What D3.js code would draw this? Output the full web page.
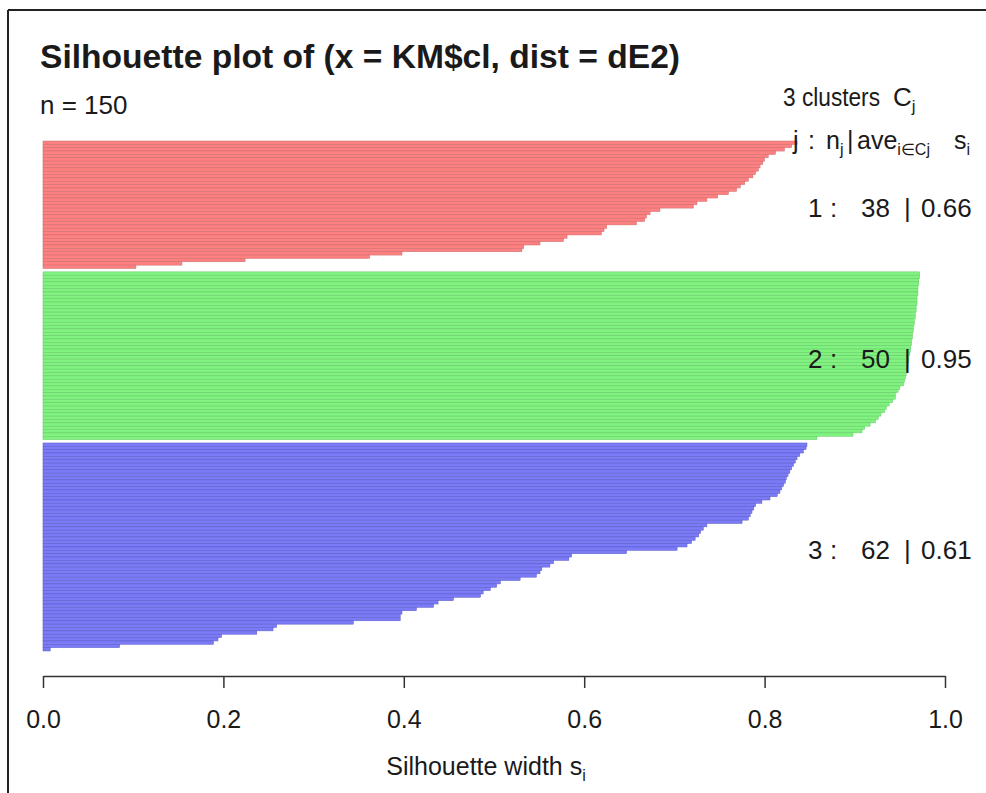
<!DOCTYPE html>
<html>
<head>
<meta charset="utf-8">
<script src="https://cdn.jsdelivr.net/npm/d3@7"></script>
<style>
  html, body { margin: 0; padding: 0; background: #fff; }
  svg { display: block; }
  text { font-family: "Liberation Sans", Arial, sans-serif; fill: #1a1a1a; }
</style>
</head>
<body>
<svg id="chart" width="986" height="793"></svg>
<script>
// ---------- data ----------
const clusterIds = [1, 2, 3];
const clusterAvg = [0.66, 0.95, 0.61];
const cluster1 = [0.836, 0.830, 0.822, 0.812, 0.804, 0.800, 0.798, 0.795, 0.793, 0.790,
  0.787, 0.782, 0.778, 0.773, 0.769, 0.760, 0.748, 0.736, 0.725, 0.721,
  0.684, 0.673, 0.669, 0.667, 0.658, 0.625, 0.622, 0.619, 0.581, 0.577,
  0.551, 0.533, 0.531, 0.398, 0.362, 0.224, 0.154, 0.103];
const cluster2 = [0.972, 0.972, 0.971, 0.971, 0.970, 0.970, 0.970, 0.969, 0.969, 0.969,
  0.968, 0.968, 0.967, 0.967, 0.966, 0.966, 0.965, 0.965, 0.964, 0.964,
  0.963, 0.963, 0.962, 0.962, 0.961, 0.960, 0.960, 0.959, 0.958, 0.957,
  0.957, 0.956, 0.955, 0.954, 0.950, 0.948, 0.945, 0.945, 0.942, 0.938,
  0.935, 0.933, 0.929, 0.926, 0.923, 0.917, 0.911, 0.908, 0.898, 0.858];
const cluster3 = [0.847, 0.846, 0.843, 0.839, 0.836, 0.834, 0.832, 0.830, 0.828, 0.826,
  0.824, 0.823, 0.821, 0.819, 0.817, 0.814, 0.806, 0.797, 0.790, 0.788,
  0.786, 0.784, 0.782, 0.775, 0.736, 0.732, 0.729, 0.727, 0.723, 0.719,
  0.714, 0.703, 0.647, 0.586, 0.583, 0.566, 0.562, 0.553, 0.551, 0.547,
  0.529, 0.507, 0.503, 0.496, 0.488, 0.485, 0.455, 0.438, 0.433, 0.414,
  0.398, 0.396, 0.396, 0.344, 0.259, 0.255, 0.237, 0.198, 0.194, 0.189,
  0.085, 0.008];
const clusterValues = [cluster1, cluster2, cluster3];
const xTicks = [0.0, 0.2, 0.4, 0.6, 0.8, 1.0];
const fills = ["#ff8080", "#80f280", "#7b7bf8"];
const edges = ["#c86a6c", "#66c866", "#5a5ac4"];

// ---------- layout ----------
const svg = d3.select("#chart");
const xLeft = 43, xRight = 945, yTop = 141, yBottom = 651;

const keys = [];
const bars = [];
clusterValues.forEach((vals, ci) => {
  if (ci > 0) keys.push("gap" + ci);
  vals.forEach((v, i) => {
    const k = "c" + ci + "_" + i;
    keys.push(k);
    bars.push({ key: k, cluster: ci, value: v });
  });
});

const x = d3.scaleLinear().domain([0, 1]).range([xLeft, xRight]);
const y = d3.scaleBand().domain(keys).range([yTop, yBottom]).paddingInner(0).paddingOuter(0);

// frame
svg.append("line").attr("x1", 8).attr("x2", 986).attr("y1", 10).attr("y2", 10)
  .attr("stroke", "#222").attr("stroke-width", 2);
svg.append("line").attr("x1", 8).attr("x2", 8).attr("y1", 10).attr("y2", 793)
  .attr("stroke", "#222").attr("stroke-width", 2);

// bars
svg.append("g").selectAll("rect").data(bars).join("rect")
  .attr("x", x(0))
  .attr("y", d => y(d.key))
  .attr("width", d => x(d.value) - x(0))
  .attr("height", y.bandwidth())
  .attr("fill", d => fills[d.cluster])
  .attr("stroke", d => edges[d.cluster])
  .attr("stroke-width", 0.5);

// axis
const axis = d3.axisBottom(x).tickValues(xTicks).tickFormat(d3.format(".1f"))
  .tickSize(12).tickSizeOuter(0).tickPadding(22);
const gAx = svg.append("g").attr("transform", "translate(0,676)").call(axis);
gAx.select(".domain").attr("stroke", "#333").attr("stroke-width", 1.5);
gAx.selectAll(".tick line").attr("stroke", "#333").attr("stroke-width", 1.5);
gAx.selectAll(".tick text").attr("font-size", 25).attr("fill", "#1a1a1a")
  .attr("font-family", "Liberation Sans, Arial, sans-serif");

// title
svg.append("text").attr("x", 40).attr("y", 68)
  .attr("font-size", 33).attr("font-weight", "bold")
  .attr("textLength", 640).attr("lengthAdjust", "spacingAndGlyphs")
  .text("Silhouette plot of (x = KM$cl, dist = dE2)");

// n
const nTotal = d3.sum(clusterValues, v => v.length);
svg.append("text").attr("x", 40).attr("y", 114).attr("font-size", 26)
  .text("n = " + nTotal);

// header right
const h1 = svg.append("text").attr("y", 106).attr("font-size", 26);
h1.append("tspan").attr("x", 783).attr("textLength", 97).attr("lengthAdjust", "spacingAndGlyphs")
  .text(clusterIds.length + " clusters");
h1.append("tspan").attr("x", 893).text("C");
h1.append("tspan").attr("font-size", 17).attr("dy", 6).text("j");

const h2 = svg.append("text").attr("y", 149).attr("font-size", 25);
h2.append("tspan").attr("x", 793).text("j");
h2.append("tspan").attr("x", 808).text(":");
h2.append("tspan").attr("x", 826).text("n");
h2.append("tspan").attr("font-size", 16).attr("dy", 6).text("j");
h2.append("tspan").attr("x", 847).attr("dy", -6).text("|");
h2.append("tspan").attr("x", 857).text("ave");
h2.append("tspan").attr("font-size", 16).attr("dy", 6).text("i\u2208Cj");
h2.append("tspan").attr("x", 954).attr("dy", -6).text("s");
h2.append("tspan").attr("font-size", 16).attr("dy", 6).text("i");

// cluster labels
clusterValues.forEach((vals, ci) => {
  const first = y("c" + ci + "_0");
  const last = y("c" + ci + "_" + (vals.length - 1)) + y.bandwidth();
  const yc = (first + last) / 2 + 3;
  const t = svg.append("text").attr("y", yc + 9).attr("font-size", 26);
  t.append("tspan").attr("x", 808).text(clusterIds[ci]);
  t.append("tspan").attr("x", 830).text(":");
  t.append("tspan").attr("x", 861).text(vals.length);
  t.append("tspan").attr("x", 904).text("|");
  t.append("tspan").attr("x", 921).text(d3.format(".2f")(clusterAvg[ci]));
});

// x title
const xt = svg.append("text").attr("x", 486).attr("y", 775).attr("font-size", 25)
  .attr("text-anchor", "middle");
xt.append("tspan").text("Silhouette width s");
xt.append("tspan").attr("font-size", 16).attr("dy", 6).text("i");
</script>
</body>
</html>
